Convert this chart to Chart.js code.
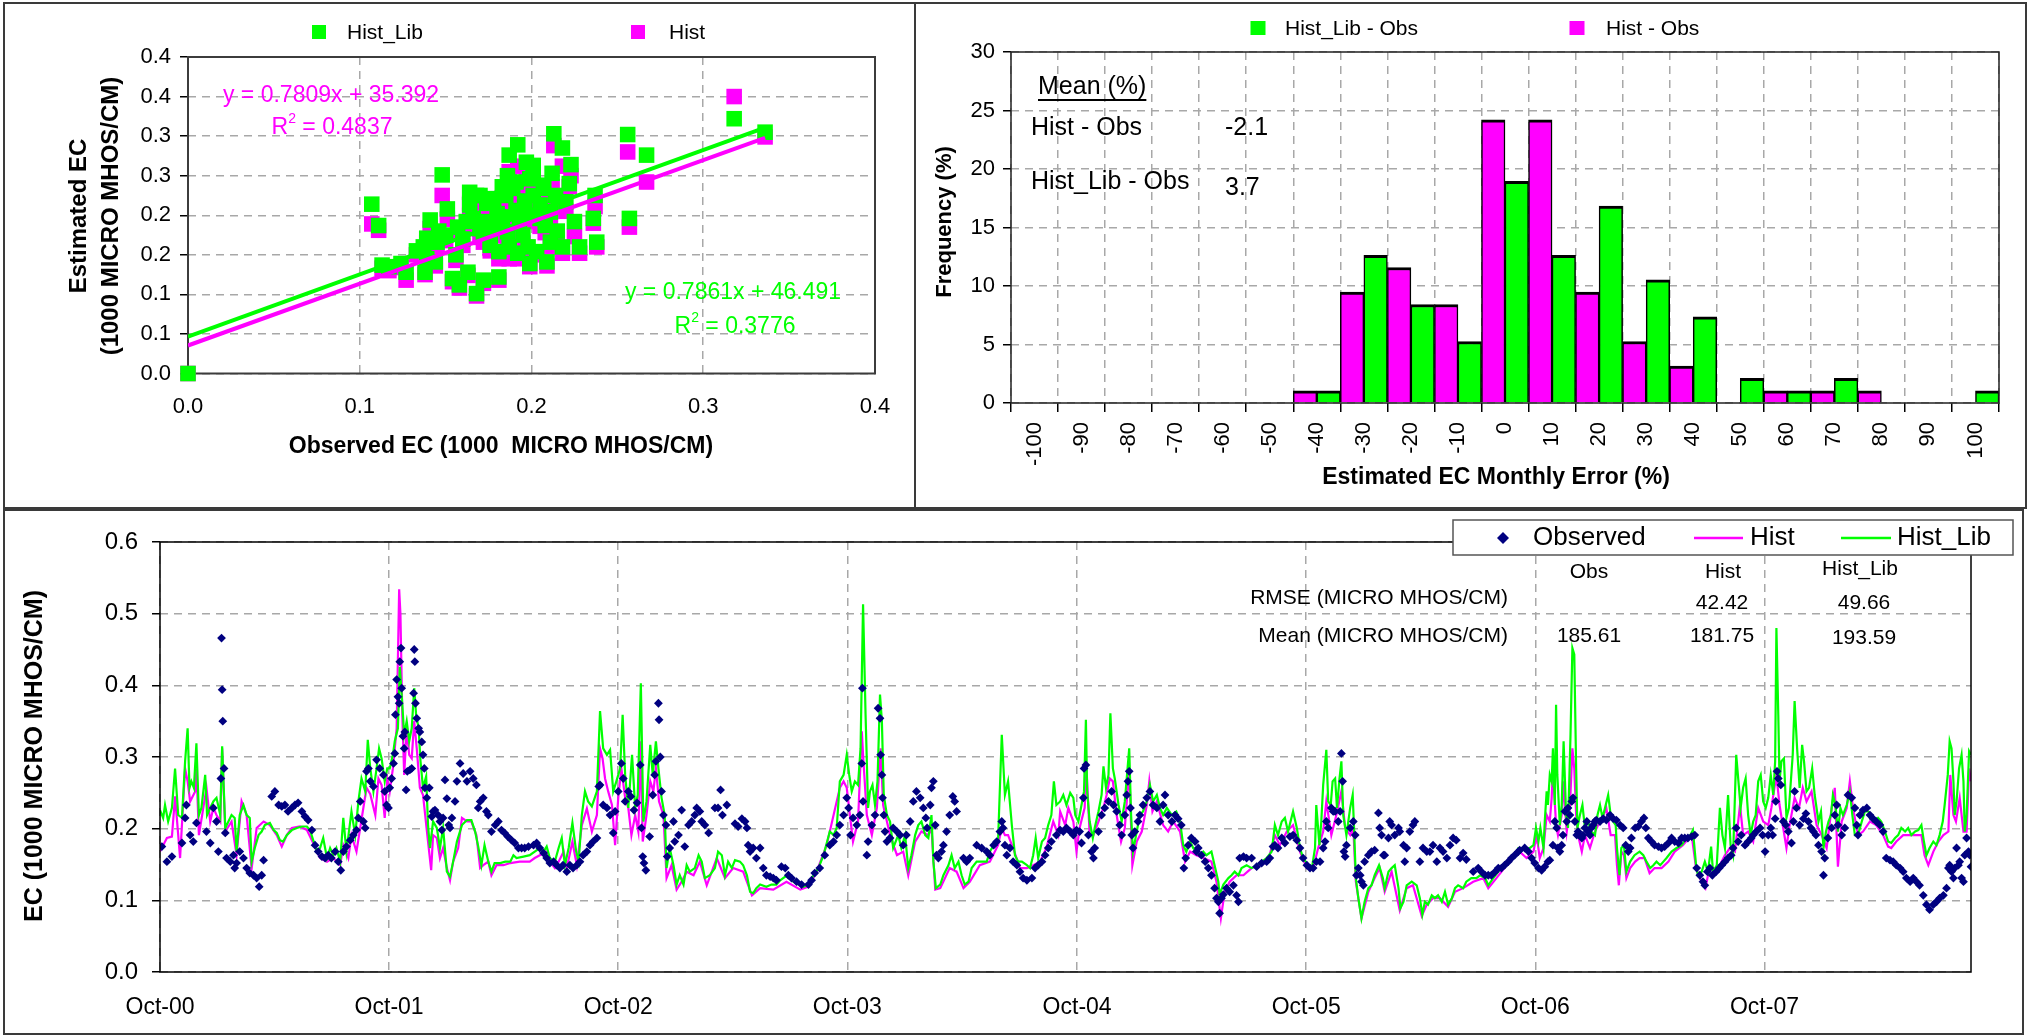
<!DOCTYPE html>
<html><head><meta charset="utf-8">
<script src="https://cdn.jsdelivr.net/npm/chart.js@4.4.0/dist/chart.umd.min.js"></script>
<style>
html,body{margin:0;padding:0;background:#fff;}
body{width:2030px;height:1035px;position:relative;overflow:hidden;}
canvas{position:absolute;}
.panel{position:absolute;box-sizing:border-box;border:2px solid #3a3a3a;}
</style></head><body>
<div class="panel" style="left:3px;top:2px;width:913px;height:507px"></div>
<div class="panel" style="left:914px;top:2px;width:1113px;height:507px"></div>
<div class="panel" style="left:3px;top:509px;width:2021px;height:526px"></div>
<canvas id="cA" width="915" height="509" style="left:0;top:0"></canvas>
<canvas id="cB" width="1115" height="509" style="left:915px;top:0"></canvas>
<canvas id="cC" width="2030" height="526" style="left:0;top:509px"></canvas>
<script>
// ================= DATA =================
// --- Scatter: monthly means (1000 MICRO MHOS/CM)
const obsMonthly = [0.000,0.107,0.111,0.148,0.192,0.187,0.213,0.218,0.223,0.256,
0.267,0.257,0.197,0.201,0.212,0.222,0.237,0.236,0.238,0.228,
0.225,0.218,0.211,0.208,0.209,0.199,0.192,0.186,0.195,0.201,
0.205,0.189,0.185,0.180,0.174,0.168,0.164,0.162,0.170,0.176,
0.181,0.181,0.172,0.168,0.163,0.158,0.154,0.156,0.151,0.150,
0.145,0.141,0.139,0.137,0.139,0.138,0.144,0.127,0.117,0.113,
0.124,0.164,0.170,0.178,0.183,0.191,0.199,0.207,0.214,0.220,
0.211,0.199,0.191,0.183,0.174,0.166,0.176,0.187,0.203,0.207,
0.201,0.318,0.336,0.160,0.172,0.196,0.205,0.180,0.193,0.157,
0.215,0.146,0.133,0.186,0.198];
const libMonthly = [0.000,0.214,0.187,0.251,0.289,0.276,0.303,0.285,0.264,0.302,
0.276,0.196,0.267,0.263,0.253,0.240,0.225,0.196,0.166,0.160,
0.192,0.160,0.166,0.187,0.141,0.139,0.152,0.179,0.175,0.225,
0.213,0.234,0.225,0.202,0.215,0.225,0.213,0.192,0.183,0.166,
0.154,0.122,0.118,0.101,0.128,0.112,0.120,0.150,0.208,0.175,
0.166,0.194,0.171,0.160,0.145,0.128,0.141,0.128,0.135,0.137,
0.139,0.229,0.225,0.221,0.236,0.242,0.246,0.234,0.225,0.217,
0.204,0.200,0.206,0.198,0.192,0.196,0.162,0.160,0.154,0.238,
0.255,0.322,0.305,0.170,0.176,0.218,0.196,0.185,0.190,0.185,
0.180,0.180,0.155,0.250,0.160];
const histMonthly = [0.000,0.189,0.181,0.225,0.262,0.255,0.288,0.262,0.250,0.280,
0.242,0.185,0.245,0.240,0.236,0.236,0.211,0.190,0.160,0.152,
0.173,0.152,0.160,0.178,0.136,0.135,0.145,0.170,0.165,0.208,
0.204,0.215,0.210,0.190,0.196,0.210,0.200,0.183,0.172,0.158,
0.145,0.118,0.114,0.098,0.124,0.108,0.116,0.143,0.195,0.168,
0.160,0.183,0.165,0.155,0.140,0.125,0.136,0.118,0.130,0.133,
0.134,0.215,0.212,0.205,0.222,0.230,0.232,0.222,0.212,0.205,
0.195,0.192,0.196,0.188,0.182,0.186,0.155,0.145,0.150,0.226,
0.240,0.350,0.299,0.162,0.166,0.205,0.186,0.174,0.180,0.176,
0.170,0.172,0.150,0.235,0.152];
const scatterNames = ['Hist', 'Hist_Lib'];
const trendSlopes = [0.7809, 0.7861];
const trendIntercepts = [35.392, 46.491];   // MICRO MHOS/CM
const trendR2 = ['0.4837', '0.3776'];
const trendXEnd = 0.336;
const scatterXTickValues = [0, 0.1, 0.2, 0.3, 0.4];
const scatterXTickLabels = ['0.0', '0.1', '0.2', '0.3', '0.4'];
const scatterYTickValues = [0, 0.05, 0.1, 0.15, 0.2, 0.25, 0.3, 0.35, 0.4];
const scatterYTickLabels = ['0.0', '0.1', '0.1', '0.2', '0.2', '0.3', '0.3', '0.4', '0.4'];

// --- Histogram of monthly error (%)
const errorBins = ['-100','-90','-80','-70','-60','-50','-40','-30','-20','-10','0','10','20','30','40','50','60','70','80','90','100'];
const histFreq = [0,0,0,0,0,0,1.05,9.47,11.58,8.42,24.21,24.21,9.47,5.26,3.16,0,1.05,1.05,1.05,0,0];
const libFreq  = [0,0,0,0,0,0,1.05,12.63,8.42,5.26,18.95,12.63,16.84,10.53,7.37,2.11,1.05,2.11,0,0,1.05];
const histNames = ['Hist - Obs', 'Hist_Lib - Obs'];
const freqTickValues = [0, 5, 10, 15, 20, 25, 30];
const meanErrorNames = ['Hist - Obs', 'Hist_Lib - Obs'];
const meanErrorValues = ['-2.1', '3.7'];

// --- Daily time series: [days since 1-Oct-2000, EC (1000 MICRO MHOS/CM)]
const yearTickDays = [0, 365, 730, 1095, 1461, 1826, 2191, 2556];
const yearTickLabels = ['Oct-00','Oct-01','Oct-02','Oct-03','Oct-04','Oct-05','Oct-06','Oct-07'];
const lastDay = 2885;
const ecTickValues = [0, 0.1, 0.2, 0.3, 0.4, 0.5, 0.6];
const ecTickLabels = ['0.0','0.1','0.2','0.3','0.4','0.5','0.6'];

const obsSeries = [[3,.175],[11,.154],[19,.161],[35,.180],[40,.215],[42,.233],[48,.191],[53,.182],[58,.208],[74,.196],[80,.180],[85,.229],[90,.210],[93,.168],[97,.270],[98,.466],[99,.394],[100,.350],[102,.284],[104,.194],[106,.159],[112,.154],[117,.163],[119,.145],[122,.152],[127,.168],[133,.159],[138,.145],[143,.138],[149,.135],[154,.131],[158,.119],[162,.135],[165,.156],[178,.245],[183,.252],[189,.233],[194,.231],[199,.233],[204,.224],[210,.229],[215,.233],[220,.236],[226,.224],[231,.217],[236,.212],[242,.198],[247,.177],[252,.168],[258,.161],[263,.159],[268,.163],[273,.159],[279,.168],[284,.154],[288,.142],[292,.168],[297,.175],[303,.184],[308,.191],[313,.198],[316,.215],[319,.238],[324,.210],[327,.201],[329,.280],[332,.284],[335,.266],[340,.259],[345,.296],[350,.284],[356,.275],[358,.252],[361,.233],[364,.229],[366,.257],[369,.270],[372,.291],[374,.305],[375,.359],[377,.408],[379,.384],[381,.375],[382,.433],[384,.452],[385,.396],[387,.329],[389,.312],[390,.335],[392,.254],[394,.280],[398,.282],[401,.284],[404,.389],[405,.450],[406,.433],[407,.375],[409,.354],[412,.340],[414,.335],[417,.321],[419,.303],[421,.284],[422,.257],[425,.243],[429,.257],[433,.217],[435,.224],[438,.226],[443,.219],[446,.210],[449,.198],[451,.215],[454,.268],[457,.242],[460,.205],[462,.201],[465,.215],[470,.238],[473,.266],[478,.291],[483,.277],[489,.266],[494,.280],[499,.270],[504,.261],[507,.229],[510,.238],[515,.243],[520,.224],[523,.219],[528,.196],[534,.205],[539,.210],[544,.198],[549,.194],[554,.189],[560,.184],[565,.180],[571,.173],[576,.173],[581,.173],[587,.175],[595,.177],[600,.180],[605,.173],[611,.166],[616,.159],[621,.152],[627,.154],[632,.149],[637,.145],[642,.149],[648,.140],[653,.149],[658,.145],[664,.149],[669,.154],[674,.163],[680,.168],[685,.177],[690,.182],[696,.187],[699,.259],
[701,.261],[706,.233],[712,.229],[717,.219],[722,.194],[725,.224],[730,.252],[735,.291],[738,.270],[741,.238],[746,.252],[750,.245],[755,.226],[760,.236],[765,.289],[767,.201],[769,.161],[771,.152],[774,.142],[780,.189],[785,.247],[788,.275],[790,.294],[794,.375],[795,.352],[797,.300],[799,.252],[802,.219],[806,.205],[808,.161],[812,.173],[818,.210],[820,.182],[826,.191],[831,.226],[836,.175],[842,.205],[847,.210],[852,.219],[855,.229],[860,.224],[863,.210],[868,.205],[874,.194],[884,.229],[889,.229],[893,.254],[896,.219],[903,.233],[916,.207],[921,.203],[927,.214],[932,.210],[935,.201],[937,.177],[940,.168],[945,.173],[950,.159],[956,.173],[961,.145],[966,.135],[972,.133],[977,.131],[982,.128],[990,.147],[996,.145],[1001,.135],[1006,.131],[1014,.126],[1022,.122],[1033,.122],[1038,.128],[1043,.138],[1051,.145],[1059,.163],[1067,.177],[1073,.182],[1078,.191],[1083,.205],[1089,.219],[1094,.243],[1097,.229],[1100,.191],[1104,.215],[1110,.205],[1115,.219],[1118,.291],[1119,.396],[1120,.238],[1126,.163],[1128,.182],[1134,.205],[1139,.219],[1144,.368],[1147,.354],[1148,.303],[1150,.275],[1151,.243],[1153,.219],[1155,.196],[1158,.182],[1163,.187],[1168,.201],[1174,.196],[1179,.191],[1184,.177],[1189,.191],[1195,.210],[1200,.238],[1205,.252],[1211,.243],[1216,.229],[1220,.215],[1222,.201],[1227,.233],[1229,.257],[1232,.266],[1235,.205],[1237,.163],[1240,.159],[1245,.168],[1248,.177],[1253,.196],[1258,.219],[1263,.245],[1266,.238],[1269,.224],[1280,.159],[1285,.154],[1290,.159],[1301,.177],[1309,.173],[1317,.168],[1322,.163],[1328,.177],[1333,.182],[1338,.196],[1341,.210],[1343,.201],[1346,.177],[1349,.163],[1354,.173],[1359,.154],[1365,.149],[1370,.140],[1375,.131],[1381,.128],[1389,.131],[1394,.145],[1399,.149],[1405,.154],[1410,.163],[1415,.173],[1420,.182],[1428,.191],
[1434,.198],[1439,.196],[1444,.201],[1450,.196],[1455,.191],[1460,.198],[1465,.196],[1468,.180],[1471,.243],[1472,.284],[1475,.289],[1479,.191],[1484,.168],[1487,.159],[1489,.173],[1495,.196],[1500,.219],[1505,.229],[1511,.238],[1516,.252],[1519,.233],[1524,.224],[1529,.205],[1532,.191],[1537,.219],[1540,.247],[1542,.266],[1544,.280],[1546,.229],[1548,.191],[1550,.173],[1553,.196],[1558,.210],[1561,.219],[1566,.233],[1572,.243],[1577,.252],[1582,.233],[1588,.229],[1593,.210],[1598,.233],[1601,.247],[1606,.219],[1612,.210],[1617,.219],[1622,.214],[1627,.205],[1631,.145],[1634,.159],[1638,.177],[1643,.187],[1649,.182],[1651,.168],[1654,.173],[1659,.163],[1665,.154],[1670,.145],[1675,.135],[1680,.117],[1683,.103],[1686,.098],[1688,.082],[1691,.103],[1694,.108],[1699,.117],[1704,.112],[1710,.121],[1715,.107],[1718,.098],[1720,.159],[1726,.161],[1731,.159],[1739,.159],[1747,.147],[1755,.152],[1763,.154],[1768,.159],[1773,.175],[1776,.177],[1781,.173],[1787,.187],[1792,.180],[1800,.189],[1805,.191],[1811,.184],[1816,.173],[1821,.159],[1827,.149],[1832,.145],[1837,.145],[1842,.154],[1848,.154],[1853,.173],[1856,.182],[1858,.210],[1861,.201],[1866,.229],[1869,.224],[1872,.224],[1877,.210],[1880,.224],[1882,.305],[1884,.266],[1886,.168],[1888,.161],[1890,.177],[1896,.201],[1901,.210],[1904,.191],[1906,.135],[1909,.145],[1912,.135],[1914,.126],[1917,.121],[1919,.154],[1925,.163],[1930,.168],[1935,.170],[1941,.222],[1943,.201],[1946,.191],[1949,.163],[1951,.163],[1957,.187],[1959,.210],[1962,.205],[1967,.191],[1973,.201],[1975,.196],[1981,.177],[1983,.154],[1986,.173],[1991,.196],[1996,.205],[1999,.210],[2007,.154],[2012,.173],[2018,.168],[2023,.168],[2028,.177],[2034,.154],[2039,.173],[2044,.168],[2050,.159],[2055,.177],[2060,.187],[2065,.184],[2071,.159],[2076,.166],[2081,.157],[2092,.140],[2100,.145],[2105,.140],[2111,.135],[2116,.135],[2121,.135],[2127,.140],[2132,.145],[2137,.145],[2142,.149],[2148,.154],[2153,.159],[2158,.163],[2164,.168],
[2166,.170],[2174,.173],[2180,.168],[2185,.159],[2190,.152],[2196,.145],[2201,.142],[2206,.147],[2211,.154],[2214,.156],[2219,.177],[2222,.210],[2225,.201],[2227,.173],[2230,.168],[2233,.177],[2235,.191],[2238,.224],[2241,.210],[2243,.229],[2246,.219],[2249,.238],[2251,.243],[2254,.210],[2257,.191],[2259,.196],[2262,.191],[2265,.187],[2267,.191],[2270,.201],[2273,.210],[2275,.196],[2278,.191],[2280,.201],[2283,.205],[2286,.210],[2288,.212],[2294,.210],[2299,.214],[2304,.212],[2310,.219],[2315,.214],[2320,.212],[2326,.205],[2331,.201],[2335,.177],[2339,.168],[2342,.173],[2344,.187],[2350,.201],[2355,.203],[2360,.210],[2364,.215],[2367,.201],[2371,.187],[2376,.182],[2381,.177],[2387,.175],[2392,.173],[2397,.175],[2403,.180],[2408,.187],[2413,.182],[2419,.180],[2424,.187],[2429,.187],[2434,.187],[2440,.189],[2445,.191],[2448,.145],[2453,.135],[2458,.126],[2461,.121],[2465,.140],[2469,.145],[2473,.135],[2479,.140],[2484,.145],[2488,.149],[2493,.154],[2498,.159],[2503,.163],[2506,.173],[2511,.201],[2514,.182],[2519,.191],[2525,.177],[2530,.182],[2535,.187],[2538,.191],[2543,.196],[2549,.201],[2553,.191],[2557,.168],[2562,.191],[2566,.201],[2569,.191],[2573,.214],[2574,.238],[2576,.280],[2578,.270],[2582,.261],[2586,.210],[2590,.205],[2594,.196],[2599,.180],[2602,.210],[2604,.252],[2607,.229],[2612,.205],[2618,.214],[2622,.221],[2626,.210],[2630,.201],[2634,.196],[2638,.191],[2642,.177],[2647,.168],[2650,.135],[2652,.159],[2657,.187],[2663,.201],[2668,.219],[2671,.233],[2673,.205],[2679,.191],[2684,.201],[2689,.247],[2695,.243],[2700,.229],[2703,.205],[2705,.191],[2708,.219],[2713,.226],[2719,.229],[2724,.219],[2729,.214],[2734,.210],[2740,.205],[2745,.196],[2750,.159],[2756,.156],[2761,.154],[2766,.149],[2772,.145],[2777,.140],[2782,.131],[2788,.126],[2793,.131],[2798,.126],[2803,.121],[2809,.107],[2814,.094],[2819,.087],[2825,.094],[2830,.098],[2835,.103],[2841,.107],[2846,.117],[2849,.145],[2851,.149],[2854,.140],[2857,.131],[2859,.145],[2862,.173],[2865,.149],[2867,.154],[2870,.131],[2873,.126],[2875,.163],[2878,.187],[2881,.168],[2883,.163],[2885,.147]];

const libSeries = [[0,.226],[5,.215],[8,.233],[13,.210],[19,.229],[24,.284],[29,.219],[35,.215],[40,.294],[44,.340],[47,.257],[50,.266],[54,.257],[58,.319],[62,.219],[66,.229],[72,.275],[75,.219],[80,.229],[85,.238],[90,.243],[96,.219],[99,.315],[104,.201],[109,.210],[114,.219],[119,.215],[122,.168],[127,.219],[133,.233],[138,.219],[143,.215],[146,.154],[151,.173],[157,.191],[162,.196],[167,.205],[175,.208],[181,.198],[186,.194],[191,.184],[196,.182],[202,.191],[210,.198],[218,.201],[226,.203],[234,.203],[239,.198],[244,.184],[250,.168],[255,.173],[260,.187],[266,.159],[271,.173],[276,.163],[281,.173],[287,.154],[292,.215],[297,.168],[305,.224],[311,.191],[316,.238],[321,.270],[327,.252],[331,.324],[335,.284],[340,.252],[345,.284],[349,.312],[353,.298],[358,.266],[362,.284],[366,.284],[371,.303],[374,.322],[379,.340],[382,.426],[385,.387],[389,.331],[393,.350],[397,.322],[401,.340],[405,.396],[408,.359],[412,.340],[415,.294],[419,.257],[424,.273],[427,.205],[430,.173],[435,.210],[441,.201],[446,.173],[451,.201],[457,.140],[462,.133],[467,.154],[473,.182],[481,.205],[489,.212],[496,.212],[502,.196],[507,.175],[512,.149],[517,.177],[523,.154],[528,.140],[533,.152],[542,.152],[550,.154],[558,.154],[563,.163],[568,.159],[579,.161],[589,.163],[597,.168],[605,.173],[611,.168],[616,.175],[621,.159],[629,.154],[635,.173],[640,.187],[645,.149],[651,.173],[657,.208],[663,.168],[667,.154],[672,.219],[677,.252],[682,.238],[688,.231],[696,.252],
[701,.364],[706,.312],[712,.303],[717,.310],[722,.252],[727,.266],[733,.284],[737,.359],[741,.275],[746,.229],[752,.303],[757,.229],[761,.247],[766,.403],[770,.210],[775,.238],[781,.317],[785,.275],[790,.322],[794,.284],[799,.243],[804,.219],[807,.145],[812,.173],[818,.149],[823,.122],[828,.135],[834,.122],[839,.149],[844,.140],[852,.145],[858,.163],[863,.154],[868,.131],[876,.135],[884,.145],[889,.168],[895,.163],[900,.135],[905,.154],[911,.145],[916,.156],[924,.154],[929,.149],[935,.135],[940,.112],[945,.110],[950,.117],[956,.122],[966,.119],[974,.122],[982,.122],[988,.128],[996,.133],[1004,.133],[1009,.126],[1017,.122],[1025,.119],[1033,.122],[1041,.135],[1049,.145],[1057,.163],[1067,.196],[1073,.191],[1078,.201],[1083,.266],[1089,.275],[1094,.303],[1098,.275],[1102,.252],[1107,.266],[1112,.261],[1116,.312],[1120,.513],[1124,.359],[1128,.229],[1131,.252],[1135,.261],[1139,.233],[1143,.266],[1147,.387],[1150,.350],[1153,.247],[1158,.219],[1163,.210],[1168,.173],[1176,.191],[1181,.173],[1187,.191],[1192,.145],[1197,.163],[1203,.191],[1208,.205],[1213,.210],[1219,.191],[1224,.187],[1229,.219],[1232,.154],[1236,.117],[1243,.122],[1248,.135],[1256,.149],[1261,.163],[1266,.145],[1272,.154],[1277,.135],[1282,.122],[1288,.126],[1293,.145],[1301,.154],[1309,.154],[1317,.154],[1322,.168],[1328,.177],[1335,.182],[1341,.331],[1346,.247],[1351,.266],[1357,.205],[1362,.163],[1367,.154],[1373,.154],[1381,.149],[1386,.145],[1391,.163],[1395,.187],[1399,.159],[1405,.182],[1410,.187],[1415,.205],[1420,.219],[1424,.266],[1428,.233],
[1434,.238],[1439,.247],[1444,.233],[1450,.250],[1455,.243],[1458,.219],[1463,.210],[1468,.233],[1472,.252],[1475,.352],[1477,.252],[1481,.210],[1486,.187],[1489,.201],[1495,.224],[1500,.247],[1503,.287],[1507,.257],[1511,.275],[1514,.361],[1518,.284],[1521,.270],[1527,.233],[1532,.210],[1537,.238],[1544,.312],[1547,.219],[1550,.168],[1556,.196],[1561,.219],[1566,.224],[1572,.238],[1577,.261],[1582,.238],[1588,.247],[1593,.229],[1598,.219],[1604,.229],[1612,.219],[1619,.224],[1625,.210],[1630,.177],[1635,.168],[1641,.182],[1646,.173],[1651,.168],[1657,.163],[1662,.168],[1667,.163],[1675,.168],[1681,.145],[1686,.126],[1688,.108],[1694,.122],[1702,.131],[1707,.135],[1712,.140],[1718,.135],[1723,.145],[1731,.149],[1739,.145],[1747,.149],[1755,.154],[1763,.159],[1771,.168],[1776,.205],[1781,.191],[1787,.210],[1792,.215],[1797,.196],[1805,.224],[1811,.201],[1816,.173],[1821,.159],[1829,.149],[1835,.145],[1840,.173],[1842,.233],[1847,.177],[1850,.210],[1853,.261],[1858,.310],[1861,.238],[1865,.233],[1868,.266],[1872,.270],[1875,.229],[1879,.270],[1882,.294],[1885,.219],[1890,.191],[1896,.229],[1900,.247],[1902,.205],[1905,.131],[1909,.103],[1914,.075],[1919,.098],[1925,.117],[1930,.121],[1935,.135],[1942,.149],[1948,.131],[1951,.117],[1957,.140],[1962,.145],[1967,.149],[1973,.117],[1976,.089],[1981,.098],[1986,.121],[1994,.126],[2002,.121],[2007,.103],[2011,.080],[2015,.098],[2020,.094],[2026,.107],[2031,.103],[2036,.107],[2042,.098],[2047,.112],[2052,.094],[2058,.103],[2063,.117],[2068,.121],[2076,.117],[2081,.126],[2089,.131],[2097,.131],[2103,.135],[2111,.131],[2116,.121],[2124,.131],[2132,.140],[2140,.149],[2148,.154],[2156,.159],[2164,.173],
[2166,.173],[2172,.173],[2177,.168],[2182,.173],[2188,.177],[2192,.201],[2196,.182],[2199,.201],[2204,.173],[2206,.210],[2209,.252],[2211,.233],[2214,.275],[2217,.266],[2219,.312],[2222,.233],[2224,.373],[2226,.275],[2230,.205],[2233,.233],[2236,.322],[2240,.219],[2243,.201],[2247,.331],[2250,.452],[2253,.443],[2256,.284],[2258,.201],[2262,.219],[2266,.233],[2270,.201],[2275,.210],[2280,.196],[2286,.191],[2290,.219],[2294,.233],[2298,.215],[2302,.229],[2307,.247],[2311,.219],[2315,.210],[2319,.205],[2321,.173],[2325,.135],[2328,.173],[2332,.177],[2336,.140],[2342,.154],[2349,.163],[2357,.168],[2363,.163],[2368,.154],[2374,.145],[2379,.149],[2384,.154],[2390,.149],[2395,.154],[2400,.159],[2408,.168],[2416,.173],[2424,.177],[2432,.187],[2438,.191],[2442,.198],[2447,.149],[2450,.135],[2456,.140],[2461,.154],[2466,.140],[2471,.175],[2474,.140],[2480,.149],[2485,.229],[2489,.191],[2493,.173],[2498,.247],[2502,.177],[2506,.163],[2511,.303],[2515,.261],[2518,.229],[2522,.257],[2526,.270],[2530,.219],[2534,.191],[2538,.210],[2542,.219],[2546,.266],[2550,.275],[2554,.238],[2558,.229],[2562,.243],[2566,.275],[2570,.247],[2573,.294],[2575,.480],[2578,.359],[2580,.266],[2583,.294],[2587,.298],[2591,.215],[2595,.229],[2601,.303],[2604,.378],[2608,.312],[2612,.257],[2616,.317],[2619,.294],[2623,.252],[2627,.257],[2632,.284],[2636,.247],[2642,.210],[2646,.224],[2650,.173],[2654,.196],[2658,.210],[2662,.219],[2665,.247],[2669,.233],[2673,.196],[2677,.229],[2681,.219],[2687,.233],[2692,.252],[2696,.219],[2700,.191],[2705,.191],[2711,.210],[2716,.224],[2721,.224],[2727,.219],[2732,.210],[2737,.215],[2742,.210],[2748,.196],[2753,.182],[2758,.180],[2764,.187],[2769,.191],[2774,.201],[2780,.196],[2785,.201],[2790,.191],[2796,.196],[2801,.198],[2806,.205],[2810,.182],[2814,.163],[2819,.173],[2825,.182],[2830,.177],[2835,.191],[2840,.210],[2843,.233],[2848,.275],[2851,.322],[2854,.312],[2857,.266],[2859,.219],[2862,.238],[2866,.284],[2870,.303],[2873,.266],[2875,.196],[2878,.219],[2882,.308],[2885,.303]];

const histSeries = [[0,.168],[11,.187],[19,.189],[24,.245],[32,.159],[40,.284],[44,.266],[48,.238],[56,.252],[58,.284],[62,.191],[69,.229],[74,.257],[80,.210],[85,.229],[90,.219],[96,.210],[99,.312],[104,.196],[114,.210],[122,.163],[130,.238],[138,.219],[146,.145],[154,.201],[165,.210],[175,.205],[186,.191],[194,.175],[202,.191],[210,.201],[223,.203],[234,.198],[244,.180],[255,.159],[266,.154],[276,.159],[287,.149],[292,.177],[300,.159],[305,.191],[313,.168],[329,.257],[335,.248],[343,.219],[348,.270],[353,.261],[358,.215],[362,.270],[366,.252],[371,.284],[377,.340],[381,.534],[383,.500],[386,.359],[389,.275],[393,.340],[397,.303],[401,.298],[405,.350],[409,.312],[414,.257],[419,.247],[427,.182],[432,.142],[435,.191],[441,.187],[446,.159],[451,.173],[457,.145],[462,.128],[467,.154],[475,.173],[481,.215],[489,.210],[496,.210],[504,.191],[510,.145],[515,.149],[523,.154],[528,.135],[536,.149],[547,.149],[558,.152],[573,.154],[589,.154],[597,.159],[605,.163],[616,.168],[621,.154],[629,.145],[635,.154],[643,.168],[648,.145],[657,.182],[664,.149],[672,.205],[680,.228],[688,.196],[696,.219],
[701,.312],[705,.298],[709,.270],[714,.252],[720,.233],[725,.177],[730,.243],[735,.284],[741,.243],[746,.229],[751,.191],[757,.219],[762,.196],[766,.322],[769,.182],[775,.219],[781,.266],[786,.252],[790,.284],[795,.238],[802,.219],[807,.131],[815,.149],[823,.115],[831,.126],[839,.140],[850,.135],[860,.154],[871,.121],[887,.159],[900,.131],[913,.145],[929,.140],[943,.107],[956,.117],[977,.115],[998,.126],[1020,.115],[1033,.119],[1046,.140],[1062,.177],[1083,.257],[1089,.266],[1094,.257],[1104,.182],[1112,.210],[1118,.336],[1120,.303],[1126,.219],[1134,.191],[1142,.229],[1148,.312],[1152,.233],[1163,.191],[1174,.163],[1184,.168],[1192,.135],[1203,.182],[1213,.196],[1224,.191],[1229,.201],[1235,.115],[1243,.117],[1258,.145],[1269,.140],[1280,.117],[1290,.126],[1306,.149],[1322,.154],[1335,.177],[1341,.201],[1346,.191],[1351,.191],[1359,.173],[1370,.145],[1381,.145],[1391,.149],[1402,.154],[1412,.173],[1423,.210],[1431,.191],
[1434,.224],[1442,.205],[1447,.229],[1455,.210],[1460,.168],[1465,.201],[1473,.229],[1476,.284],[1481,.191],[1487,.191],[1495,.210],[1503,.229],[1508,.247],[1513,.270],[1518,.266],[1524,.219],[1531,.182],[1537,.201],[1544,.284],[1549,.149],[1556,.182],[1564,.196],[1572,.233],[1576,.266],[1581,.224],[1588,.238],[1598,.205],[1606,.196],[1614,.210],[1625,.196],[1633,.154],[1641,.168],[1651,.163],[1662,.159],[1675,.154],[1683,.126],[1690,.075],[1696,.112],[1704,.126],[1715,.135],[1726,.135],[1739,.145],[1752,.149],[1765,.154],[1776,.191],[1784,.177],[1795,.196],[1805,.205],[1816,.168],[1827,.145],[1837,.145],[1845,.173],[1853,.196],[1858,.238],[1866,.191],[1874,.219],[1882,.252],[1888,.201],[1896,.191],[1901,.201],[1905,.126],[1914,.075],[1925,.112],[1935,.131],[1943,.145],[1951,.112],[1962,.140],[1975,.086],[1986,.117],[1996,.121],[2010,.078],[2018,.094],[2028,.103],[2039,.103],[2052,.091],[2063,.112],[2076,.117],[2092,.126],[2108,.131],[2116,.117],[2129,.131],[2145,.149],[2161,.168],
[2166,.168],[2177,.159],[2188,.168],[2193,.191],[2198,.159],[2204,.173],[2209,.219],[2214,.210],[2217,.243],[2219,.284],[2224,.205],[2227,.191],[2233,.219],[2235,.266],[2241,.196],[2246,.229],[2250,.312],[2253,.284],[2256,.219],[2259,.191],[2265,.168],[2270,.191],[2278,.173],[2286,.196],[2291,.205],[2296,.210],[2304,.229],[2311,.191],[2318,.191],[2321,.149],[2324,.121],[2328,.168],[2332,.163],[2336,.131],[2342,.145],[2350,.154],[2357,.159],[2365,.159],[2373,.138],[2381,.145],[2392,.145],[2403,.154],[2413,.168],[2426,.177],[2440,.191],[2447,.145],[2453,.131],[2462,.117],[2466,.135],[2474,.135],[2485,.149],[2493,.163],[2501,.173],[2509,.168],[2517,.233],[2522,.191],[2530,.196],[2538,.182],[2546,.229],[2554,.210],[2562,.205],[2567,.229],[2575,.275],[2580,.233],[2591,.173],[2596,.205],[2604,.243],[2611,.229],[2617,.257],[2623,.238],[2631,.252],[2639,.205],[2647,.191],[2655,.173],[2663,.229],[2668,.257],[2673,.147],[2679,.210],[2687,.229],[2692,.266],[2697,.229],[2705,.191],[2713,.196],[2724,.210],[2734,.205],[2745,.191],[2753,.175],[2758,.173],[2766,.182],[2777,.191],[2788,.191],[2798,.191],[2806,.191],[2811,.163],[2817,.149],[2825,.168],[2833,.182],[2841,.191],[2849,.196],[2852,.275],[2857,.219],[2861,.210],[2867,.243],[2873,.196],[2878,.196],[2882,.284],[2885,.266]];

const tsNames = ['Observed', 'Hist', 'Hist_Lib'];
const statsHeaders = ['Obs', 'Hist', 'Hist_Lib'];
const statsRowNames = ['RMSE (MICRO MHOS/CM)', 'Mean (MICRO MHOS/CM)'];
const rmseValues = ['', '42.42', '49.66'];
const meanValues = ['185.61', '181.75', '193.59'];

// ================= STYLE / HELPERS =================
const FONT = "'Liberation Sans', Arial, Helvetica, sans-serif";
const GREEN = '#00FF00', MAGENTA = '#FF00FF', NAVY = '#000080', GRID = '#a8a8a8';
Chart.defaults.font.family = FONT;
Chart.defaults.color = '#000';
Chart.defaults.animation = false;

function txt(ctx, s, x, y, o = {}) {
  ctx.save();
  ctx.font = (o.weight || 'normal') + ' ' + (o.size || 20) + 'px ' + FONT;
  ctx.fillStyle = o.color || '#000';
  ctx.textAlign = o.align || 'left';
  ctx.textBaseline = 'middle';
  ctx.translate(x, y);
  if (o.rot) ctx.rotate(o.rot);
  ctx.fillText(s, 0, 0);
  const w = ctx.measureText(s).width;
  ctx.restore();
  return w;
}
function rsq(ctx, value, cx, cy, size, color) {
  ctx.save();
  const big = size + 'px ' + FONT, small = Math.round(size * 0.6) + 'px ' + FONT;
  ctx.font = big; const wR = ctx.measureText('R').width; const rest = ' = ' + value; const wRest = ctx.measureText(rest).width;
  ctx.font = small; const w2 = ctx.measureText('2').width;
  let x = cx - (wR + w2 + wRest) / 2;
  ctx.fillStyle = color; ctx.textBaseline = 'middle'; ctx.textAlign = 'left';
  ctx.font = big; ctx.fillText('R', x, cy); x += wR;
  ctx.font = small; ctx.fillText('2', x, cy - size * 0.38); x += w2;
  ctx.font = big; ctx.fillText(rest, x, cy);
  ctx.restore();
}
function frame(ctx, a, color, w) {
  ctx.save(); ctx.strokeStyle = color; ctx.lineWidth = w;
  ctx.strokeRect(a.left, a.top, a.right - a.left, a.bottom - a.top); ctx.restore();
}
function square(ctx, cx, cy, w, h, color) { ctx.save(); ctx.fillStyle = color; ctx.fillRect(cx - w / 2, cy - h / 2, w, h); ctx.restore(); }

// ================= CHART A: scatter =================
function trendPoints(i) {
  const m = trendSlopes[i], b = trendIntercepts[i] / 1000;
  return [{x: 0, y: b}, {x: trendXEnd, y: m * trendXEnd + b}];
}
const scatterDeco = {
  id: 'scatterDeco',
  beforeDatasetsDraw(chart) {
    frame(chart.ctx, chart.chartArea, '#3c3c3c', 2);
  },
  afterDraw(chart) {
    const c = chart.ctx;
    square(c, 319, 32, 14, 14, GREEN); txt(c, scatterNames[1], 347, 33, {size: 21});
    square(c, 638, 32, 14, 14, MAGENTA); txt(c, scatterNames[0], 669, 33, {size: 21});
    txt(c, 'y = ' + trendSlopes[0] + 'x + ' + trendIntercepts[0], 331, 96, {size: 23, color: MAGENTA, align: 'center'});
    rsq(c, trendR2[0], 332, 128, 23, MAGENTA);
    txt(c, 'y = ' + trendSlopes[1] + 'x + ' + trendIntercepts[1], 733, 293, {size: 23, color: GREEN, align: 'center'});
    rsq(c, trendR2[1], 735, 327, 23, GREEN);
    txt(c, 'Observed EC (1000  MICRO MHOS/CM)', 501, 447, {size: 23, weight: 'bold', align: 'center'});
    txt(c, 'Estimated EC', 79, 216, {size: 24, weight: 'bold', align: 'center', rot: -Math.PI / 2});
    txt(c, '(1000 MICRO MHOS/CM)', 111, 216, {size: 24, weight: 'bold', align: 'center', rot: -Math.PI / 2});
  }
};
new Chart(document.getElementById('cA'), {
  type: 'scatter',
  data: { datasets: [
    {label: 'libTrend', data: trendPoints(1), showLine: true, borderColor: GREEN, borderWidth: 4, pointRadius: 0},
    {label: 'histTrend', data: trendPoints(0), showLine: true, borderColor: MAGENTA, borderWidth: 4, pointRadius: 0},
    {label: scatterNames[1], data: obsMonthly.map((x, i) => ({x, y: libMonthly[i]})), pointStyle: 'rect', pointRadius: 11, backgroundColor: GREEN, borderWidth: 0, clip: false},
    {label: scatterNames[0], data: obsMonthly.map((x, i) => ({x, y: histMonthly[i]})), pointStyle: 'rect', pointRadius: 11, backgroundColor: MAGENTA, borderWidth: 0, clip: false}
  ]},
  options: {
    responsive: false, animation: false,
    layout: {padding: {left: 0, top: 57, right: 40, bottom: 0}},
    plugins: {legend: {display: false}, tooltip: {enabled: false}},
    scales: {
      x: {type: 'linear', min: 0, max: 0.4,
        afterBuildTicks(s) { s.ticks = scatterXTickValues.map(v => ({value: v})); },
        afterFit(s) { s.height = 135.5; },
        ticks: {font: {size: 22}, padding: 20, autoSkip: false, maxRotation: 0, callback: (v, i) => scatterXTickLabels[i]},
        grid: {color: GRID, lineWidth: 1.5, drawTicks: false}, border: {display: false, dash: [8, 6]}},
      y: {type: 'linear', min: 0, max: 0.4,
        afterBuildTicks(s) { s.ticks = scatterYTickValues.map(v => ({value: v})); },
        afterFit(s) { s.width = 188; },
        ticks: {font: {size: 22}, padding: 9, autoSkip: false, callback: (v, i) => scatterYTickLabels[i]},
        grid: {color: GRID, lineWidth: 1.5, tickLength: 8, tickColor: '#000', tickWidth: 1.5}, border: {display: false, dash: [8, 6]}}
    }
  },
  plugins: [scatterDeco]
});

// ================= CHART B: histogram =================
const histDeco = {
  id: 'histDeco',
  afterDraw(chart) {
    const c = chart.ctx, a = chart.chartArea;
    frame(c, a, '#222', 1.5);
    square(c, 343, 28, 15, 14, GREEN); txt(c, histNames[1], 370, 29, {size: 21});
    square(c, 662, 28, 15, 14, MAGENTA); txt(c, histNames[0], 691, 29, {size: 21});
    const w = txt(c, 'Mean (%)', 123, 87, {size: 25});
    c.save(); c.strokeStyle = '#000'; c.lineWidth = 2; c.beginPath(); c.moveTo(123, 100); c.lineTo(123 + w, 100); c.stroke(); c.restore();
    txt(c, meanErrorNames[0], 116, 128, {size: 25}); txt(c, meanErrorValues[0], 310, 128, {size: 25});
    txt(c, meanErrorNames[1], 116, 182, {size: 25}); txt(c, meanErrorValues[1], 310, 188, {size: 25});
    txt(c, 'Frequency (%)', 30, 222, {size: 22, weight: 'bold', align: 'center', rot: -Math.PI / 2});
    txt(c, 'Estimated EC Monthly Error (%)', 581, 478, {size: 23, weight: 'bold', align: 'center'});
  }
};
const barBorder = {top: 3, left: 1.5, right: 1.5, bottom: 0};
new Chart(document.getElementById('cB'), {
  type: 'bar',
  data: { labels: errorBins, datasets: [
    {label: histNames[0], data: histFreq, backgroundColor: MAGENTA, borderColor: '#000', borderWidth: barBorder, borderSkipped: 'start'},
    {label: histNames[1], data: libFreq, backgroundColor: GREEN, borderColor: '#000', borderWidth: barBorder, borderSkipped: 'start'}
  ]},
  options: {
    responsive: false, animation: false,
    layout: {padding: {left: 0, top: 52, right: 31, bottom: 0}},
    plugins: {legend: {display: false}, tooltip: {enabled: false}},
    datasets: {bar: {barPercentage: 1, categoryPercentage: 1}},
    scales: {
      x: {offset: true, afterFit(s) { s.height = 106; },
        ticks: {font: {size: 22}, padding: 10, minRotation: 90, maxRotation: 90, autoSkip: false},
        grid: {offset: true, color: GRID, lineWidth: 1.5, tickLength: 9, tickColor: '#000', tickWidth: 1.5}, border: {display: false, dash: [8, 6]}},
      y: {min: 0, max: 30, afterFit(s) { s.width = 96; },
        afterBuildTicks(s) { s.ticks = freqTickValues.map(v => ({value: v})); },
        ticks: {font: {size: 22}, padding: 8, autoSkip: false},
        grid: {color: GRID, lineWidth: 1.5, tickLength: 8, tickColor: '#000', tickWidth: 1.5}, border: {display: false, dash: [8, 6]}}
    }
  },
  plugins: [histDeco]
});

// ================= CHART C: daily time series =================
const tsDeco = {
  id: 'tsDeco',
  afterDraw(chart) {
    const c = chart.ctx, a = chart.chartArea;
    frame(c, a, '#000', 1.5);
    const hx = [1589, 1723, 1860], hy = [63, 63, 60];
    statsHeaders.forEach((h, i) => txt(c, h, hx[i], hy[i], {size: 21, align: 'center'}));
    txt(c, statsRowNames[0], 1508, 89, {size: 21, align: 'right'});
    txt(c, statsRowNames[1], 1508, 127, {size: 21, align: 'right'});
    const vx = [1589, 1722, 1864];
    rmseValues.forEach((v, i) => { if (v) txt(c, v, vx[i], 94, {size: 21, align: 'center'}); });
    meanValues.forEach((v, i) => txt(c, v, vx[i], i === 2 ? 129 : 127, {size: 21, align: 'center'}));
    c.save(); c.fillStyle = '#fff'; c.fillRect(1453, 11, 560, 35); c.strokeStyle = '#555'; c.lineWidth = 1.5; c.strokeRect(1453, 11, 560, 35); c.restore();
    c.save(); c.fillStyle = NAVY; c.beginPath(); c.moveTo(1503, 23); c.lineTo(1509, 29); c.lineTo(1503, 35); c.lineTo(1497, 29); c.closePath(); c.fill(); c.restore();
    txt(c, tsNames[0], 1533, 29, {size: 26});
    c.save(); c.lineWidth = 2.5; c.strokeStyle = MAGENTA; c.beginPath(); c.moveTo(1694, 29); c.lineTo(1743, 29); c.stroke();
    c.strokeStyle = GREEN; c.beginPath(); c.moveTo(1841, 29); c.lineTo(1891, 29); c.stroke(); c.restore();
    txt(c, tsNames[1], 1750, 29, {size: 26});
    txt(c, tsNames[2], 1897, 29, {size: 26});
    txt(c, 'EC (1000 MICRO MHOS/CM)', 35, 247, {size: 25, weight: 'bold', align: 'center', rot: -Math.PI / 2});
  }
};
const toXY = arr => arr.map(p => ({x: p[0], y: p[1]}));
new Chart(document.getElementById('cC'), {
  type: 'scatter',
  data: { datasets: [
    {label: tsNames[0], data: toXY(obsSeries), showLine: false, pointStyle: 'rectRot', pointRadius: 4.4, backgroundColor: NAVY, borderWidth: 0},
    {label: tsNames[2], data: toXY(libSeries), showLine: true, borderColor: GREEN, borderWidth: 2.2, pointRadius: 0, tension: 0},
    {label: tsNames[1], data: toXY(histSeries), showLine: true, borderColor: MAGENTA, borderWidth: 2.2, pointRadius: 0, tension: 0}
  ]},
  options: {
    responsive: false, animation: false,
    layout: {padding: {left: 0, top: 33, right: 59, bottom: 0}},
    plugins: {legend: {display: false}, tooltip: {enabled: false}},
    scales: {
      x: {type: 'linear', min: 0, max: lastDay,
        afterBuildTicks(s) { s.ticks = yearTickDays.map(v => ({value: v})); },
        afterFit(s) { s.height = 63; },
        ticks: {font: {size: 23}, padding: 22, autoSkip: false, maxRotation: 0, callback: v => yearTickLabels[yearTickDays.indexOf(v)]},
        grid: {color: GRID, lineWidth: 1.5, drawTicks: false}, border: {display: false, dash: [8, 6]}},
      y: {type: 'linear', min: 0, max: 0.6,
        afterBuildTicks(s) { s.ticks = ecTickValues.map(v => ({value: v})); },
        afterFit(s) { s.width = 160; },
        ticks: {font: {size: 24}, padding: 14, autoSkip: false, callback: (v, i) => ecTickLabels[i]},
        grid: {color: GRID, lineWidth: 1.5, tickLength: 8, tickColor: '#000', tickWidth: 1.5}, border: {display: false, dash: [8, 6]}}
    }
  },
  plugins: [tsDeco]
});
</script>
</body></html>
